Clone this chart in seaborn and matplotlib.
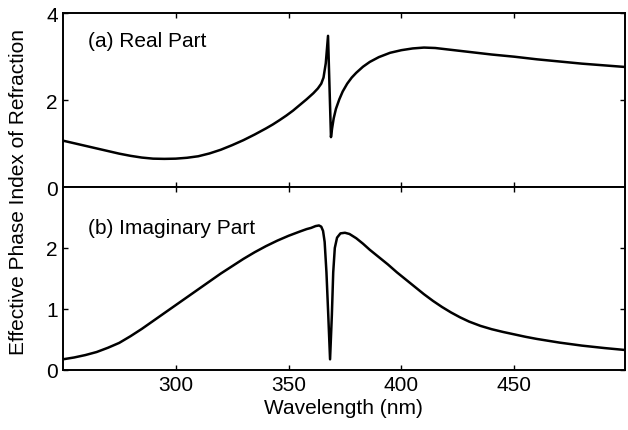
import numpy as np
import pandas as pd
import seaborn as sns
import matplotlib
matplotlib.use("Agg")
import matplotlib.pyplot as plt

# real part of effective phase index
wl_real = [250, 255, 260, 265, 270, 275, 280, 285, 290, 295, 300, 305, 310, 315,
           320, 325, 330, 335, 340, 343, 346, 349, 352, 355, 358, 361, 363, 364.5,
           365.5, 366.5, 367.5, 368.8, 369.3, 370, 371, 372.5, 374, 376, 378, 380,
           383, 386, 390, 395, 400, 405, 410, 415, 420, 430, 440, 450, 460, 470,
           480, 490, 500]
n_real = [1.07, 1.01, 0.95, 0.89, 0.83, 0.77, 0.72, 0.68, 0.655, 0.65, 0.655, 0.675,
          0.71, 0.775, 0.86, 0.965, 1.08, 1.21, 1.35, 1.44, 1.54, 1.645, 1.76, 1.89,
          2.02, 2.16, 2.27, 2.38, 2.52, 2.85, 3.48, 1.15, 1.35, 1.58, 1.80, 2.02,
          2.20, 2.38, 2.52, 2.63, 2.77, 2.88, 2.99, 3.09, 3.15, 3.19, 3.21, 3.20,
          3.17, 3.11, 3.05, 3.00, 2.94, 2.89, 2.84, 2.80, 2.76]

# imaginary part
wl_imag = [250, 255, 260, 265, 270, 275, 280, 285, 290, 295, 300, 305, 310, 315,
           320, 325, 330, 335, 340, 345, 350, 355, 358, 360, 362, 363.5, 364.5,
           365.3, 366, 366.8, 367.6, 368.4, 369.2, 369.8, 370.5, 371.5, 373, 375,
           377, 380, 383, 386, 390, 394, 398, 402, 406, 410, 414, 418, 422, 426,
           430, 435, 440, 445, 450, 455, 460, 470, 480, 490, 500]
n_imag = [0.17, 0.20, 0.24, 0.29, 0.36, 0.44, 0.55, 0.67, 0.80, 0.93, 1.06, 1.19,
          1.32, 1.45, 1.58, 1.70, 1.82, 1.93, 2.03, 2.12, 2.20, 2.27, 2.31, 2.33,
          2.36, 2.37, 2.35, 2.28, 2.10, 1.60, 0.90, 0.17, 0.90, 1.60, 2.00, 2.17,
          2.24, 2.25, 2.23, 2.16, 2.07, 1.97, 1.85, 1.73, 1.60, 1.48, 1.36, 1.24,
          1.13, 1.03, 0.94, 0.86, 0.79, 0.72, 0.665, 0.62, 0.58, 0.54, 0.505, 0.445,
          0.395, 0.355, 0.32]

df_real = pd.DataFrame({'wl': wl_real, 'n': n_real})
df_imag = pd.DataFrame({'wl': wl_imag, 'n': n_imag})

sns.set_theme(style="ticks")
plt.rcParams['font.family'] = ['Liberation Sans', 'DejaVu Sans']
plt.rcParams['text.color'] = 'black'
plt.rcParams['axes.labelcolor'] = 'black'
plt.rcParams['xtick.direction'] = 'in'
plt.rcParams['ytick.direction'] = 'in'

fig = plt.figure(figsize=(6.28, 4.31), dpi=100)
ax_top = fig.add_axes([0.100, 0.5635, 0.895, 0.4035])
ax_bot = fig.add_axes([0.100, 0.140, 0.895, 0.4235])

sns.lineplot(data=df_real, x='wl', y='n', ax=ax_top, color='black', lw=1.8, sort=False)
sns.lineplot(data=df_imag, x='wl', y='n', ax=ax_bot, color='black', lw=1.8, sort=False)

for ax in (ax_top, ax_bot):
    ax.set_xlim(250, 499)
    ax.set_xticks([300, 350, 400, 450])
    ax.tick_params(top=True, right=True, length=3.5, width=1, labelsize=15,
                   color='black', labelcolor='black')
    for sp in ax.spines.values():
        sp.set_linewidth(1.4)
        sp.set_color('black')
    ax.set_xlabel('')
    ax.set_ylabel('')

ax_top.set_ylim(0, 4)
ax_top.set_yticks([0, 2, 4])
ax_top.tick_params(labelbottom=False)
ax_bot.set_ylim(0, 3)
ax_bot.set_yticks([0, 1, 2])

ax_top.text(0.045, 0.845, '(a) Real Part', transform=ax_top.transAxes,
            fontsize=15, va='center', ha='left', color='black')
ax_bot.text(0.045, 0.78, '(b) Imaginary Part', transform=ax_bot.transAxes,
            fontsize=15, va='center', ha='left', color='black')

ax_bot.set_xlabel('Wavelength (nm)', fontsize=15, labelpad=3, color='black')
fig.text(0.030, 0.555, 'Effective Phase Index of Refraction', rotation=90,
         fontsize=15, va='center', ha='center', color='black')

fig.savefig('out.png', dpi=100)
